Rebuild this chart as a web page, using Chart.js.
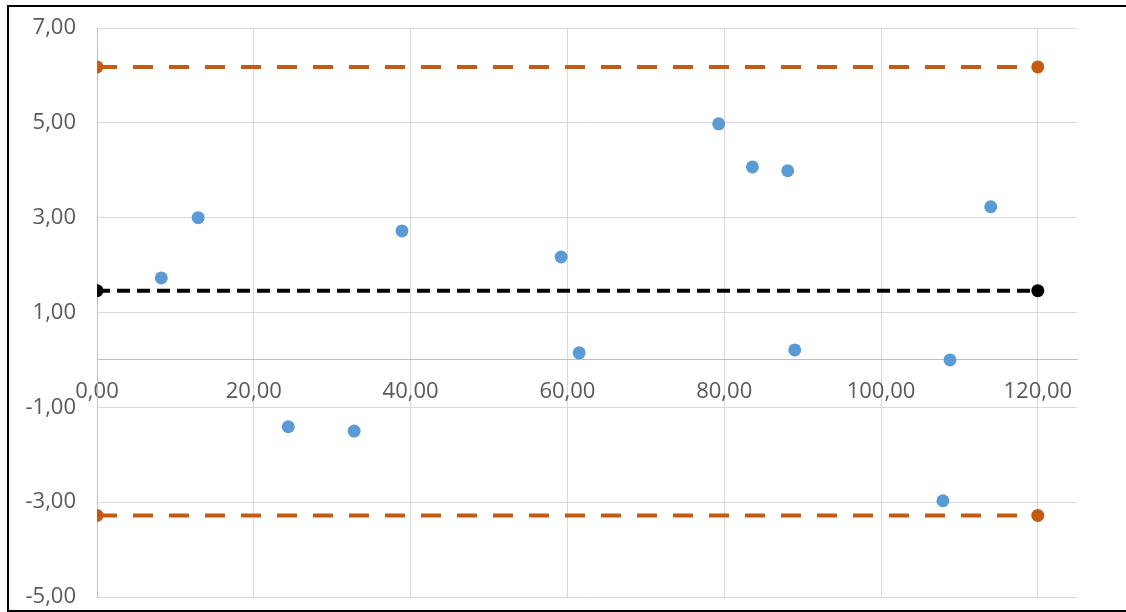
<!DOCTYPE html>
<html>
<head>
<meta charset="utf-8">
<script src="https://cdn.jsdelivr.net/npm/chart.js@4"></script>
<style>
  html, body { margin: 0; padding: 0; background: #fff; }
  #wrap { position: relative; width: 1126px; height: 612px; overflow: hidden; }
  #frame {
    position: absolute; left: 7px; top: 5px; width: 1130px; height: 603px;
    border-left: 2px solid #000; border-top: 2px solid #000; border-bottom: 2px solid #000;
    pointer-events: none;
  }
  canvas { position: absolute; left: 0; top: 0; }
</style>
</head>
<body>
<div id="wrap">
  <canvas id="chart" width="1126" height="612"></canvas>
  <div id="frame"></div>
</div>
<script>
// measured points (mean vs difference)
const xValues = [8.2, 12.9, 24.4, 32.8, 38.9, 59.2, 61.5, 79.3, 83.6, 88.1, 89.0, 107.9, 108.8, 114.0];
const yValues = [1.73, 3.00, -1.41, -1.50, 2.72, 2.17, 0.15, 4.98, 4.07, 3.99, 0.21, -2.97, 0.00, 3.23];

// reference lines drawn from x = 0 to x = 120
const lineX = [0, 120];
const meanDiff = 1.46;
const upperLimit = 6.18;
const lowerLimit = -3.28;

const xTicks = [0, 20, 40, 60, 80, 100, 120];
const yTicks = [-5, -3, -1, 1, 3, 5, 7];

const fmt = v => v.toFixed(2).replace('.', ',');

function hLine(yv) {
  return lineX.map(x => ({ x: x, y: yv }));
}

const ctx = document.getElementById('chart').getContext('2d');
new Chart(ctx, {
  type: 'scatter',
  data: {
    datasets: [
      {
        label: 'Upper',
        data: hLine(upperLimit),
        showLine: true,
        borderColor: '#C55A11',
        borderWidth: 4,
        borderDash: [20, 16],
        pointRadius: 6.5,
        pointBackgroundColor: '#C55A11',
        pointBorderWidth: 0
      },
      {
        label: 'Lower',
        data: hLine(lowerLimit),
        showLine: true,
        borderColor: '#C55A11',
        borderWidth: 4,
        borderDash: [20, 16],
        pointRadius: 6.5,
        pointBackgroundColor: '#C55A11',
        pointBorderWidth: 0
      },
      {
        label: 'Mean',
        data: hLine(meanDiff),
        showLine: true,
        borderColor: '#000000',
        borderWidth: 4,
        borderDash: [13, 7],
        pointRadius: 6.5,
        pointBackgroundColor: '#000000',
        pointBorderWidth: 0
      },
      {
        label: 'Data',
        data: xValues.map((x, i) => ({ x: x, y: yValues[i] })),
        showLine: false,
        pointRadius: 6.5,
        pointBackgroundColor: '#5B9BD5',
        pointBorderWidth: 0
      }
    ]
  },
  options: {
    responsive: false,
    animation: false,
    layout: { padding: { top: 28, right: 49, bottom: 15, left: 0 } },
    plugins: { legend: { display: false }, tooltip: { enabled: false } },
    scales: {
      x: {
        type: 'linear',
        position: { y: 0 },
        min: 0,
        max: 125,
        afterBuildTicks: scale => { scale.ticks = xTicks.map(v => ({ value: v })); },
        grid: { color: '#D9D9D9', lineWidth: 1, drawTicks: false },
        border: { color: '#BFBFBF', width: 1 },
        ticks: {
          padding: 19,
          color: '#595959',
          font: { family: 'Open Sans', size: 22 },
          maxRotation: 0,
          callback: v => fmt(v)
        }
      },
      y: {
        type: 'linear',
        min: -5,
        max: 7,
        afterBuildTicks: scale => { scale.ticks = yTicks.map(v => ({ value: v })); },
        afterFit: scale => {
          // keep the plot area fixed: no extra room for the end labels
          scale.width = 97;
          scale.paddingTop = 0;
          scale.paddingBottom = 0;
        },
        grid: { color: '#D9D9D9', lineWidth: 1, drawTicks: false },
        border: { color: '#BFBFBF', width: 1 },
        ticks: {
          padding: 21,
          color: '#595959',
          font: { family: 'Open Sans', size: 22 },
          callback: v => fmt(v)
        }
      }
    }
  }
});
</script>
</body>
</html>
